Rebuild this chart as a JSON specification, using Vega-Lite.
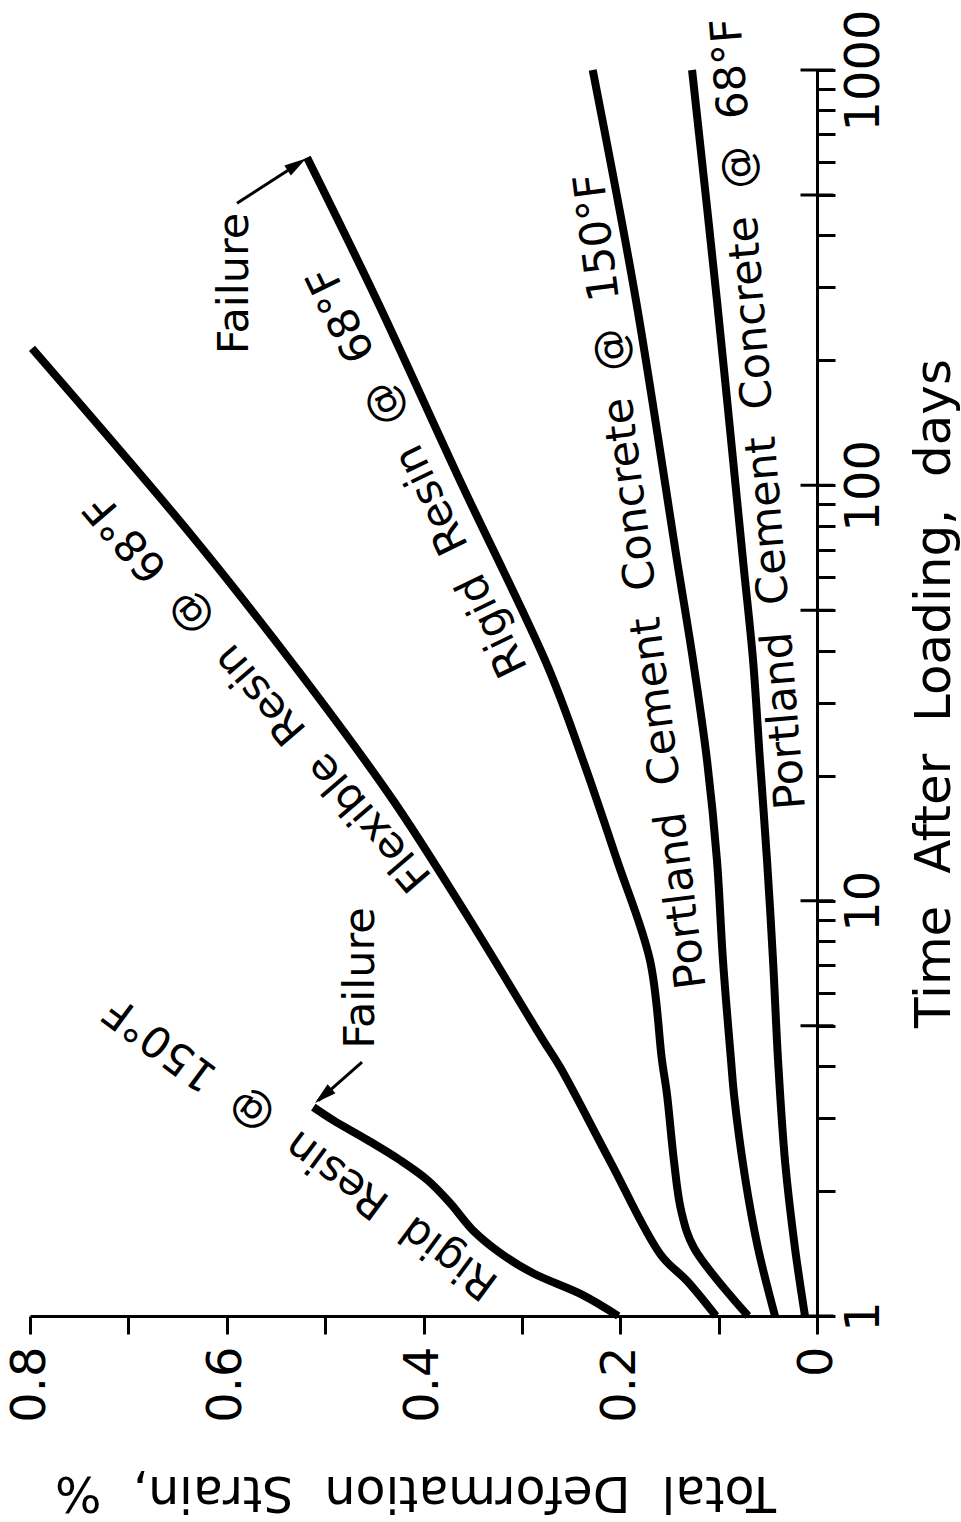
{
  "$schema": "https://vega.github.io/schema/vega-lite/v6.json",
  "width": 787,
  "height": 1246,
  "autosize": "none",
  "padding": {"left": 30, "top": 70, "right": 144, "bottom": 206},
  "background": "white",
  "config": {"view": {"stroke": null}, "font": "DejaVu Sans"},
  "datasets": {
    "curves": [
      {"series": "RR150", "order": 1, "days": 1, "strain": 0.202},
      {"series": "RR150", "order": 2, "days": 1.123, "strain": 0.238},
      {"series": "RR150", "order": 3, "days": 1.269, "strain": 0.289},
      {"series": "RR150", "order": 4, "days": 1.418, "strain": 0.322},
      {"series": "RR150", "order": 5, "days": 1.61, "strain": 0.35},
      {"series": "RR150", "order": 6, "days": 1.871, "strain": 0.373},
      {"series": "RR150", "order": 7, "days": 2.125, "strain": 0.396},
      {"series": "RR150", "order": 8, "days": 2.374, "strain": 0.424},
      {"series": "RR150", "order": 9, "days": 2.653, "strain": 0.457},
      {"series": "RR150", "order": 10, "days": 2.963, "strain": 0.492},
      {"series": "RR150", "order": 11, "days": 3.184, "strain": 0.512},
      {"series": "FR68", "order": 1, "days": 1, "strain": 0.1027},
      {"series": "FR68", "order": 2, "days": 1.214, "strain": 0.132},
      {"series": "FR68", "order": 3, "days": 1.402, "strain": 0.1586},
      {"series": "FR68", "order": 4, "days": 2.361, "strain": 0.2104},
      {"series": "FR68", "order": 5, "days": 3.975, "strain": 0.2612},
      {"series": "FR68", "order": 6, "days": 4.616, "strain": 0.2785},
      {"series": "FR68", "order": 7, "days": 9.38, "strain": 0.3578},
      {"series": "FR68", "order": 8, "days": 17.46, "strain": 0.431},
      {"series": "FR68", "order": 9, "days": 35.3, "strain": 0.5255},
      {"series": "FR68", "order": 10, "days": 74.9, "strain": 0.634},
      {"series": "FR68", "order": 11, "days": 213.7, "strain": 0.798},
      {"series": "RR68", "order": 1, "days": 1, "strain": 0.07},
      {"series": "RR68", "order": 2, "days": 1.458, "strain": 0.125},
      {"series": "RR68", "order": 3, "days": 1.789, "strain": 0.138},
      {"series": "RR68", "order": 4, "days": 2.361, "strain": 0.1454},
      {"series": "RR68", "order": 5, "days": 3.42, "strain": 0.1525},
      {"series": "RR68", "order": 6, "days": 4.13, "strain": 0.1576},
      {"series": "RR68", "order": 7, "days": 7.19, "strain": 0.1698},
      {"series": "RR68", "order": 8, "days": 12.52, "strain": 0.2033},
      {"series": "RR68", "order": 9, "days": 21.78, "strain": 0.2379},
      {"series": "RR68", "order": 10, "days": 36.5, "strain": 0.2734},
      {"series": "RR68", "order": 11, "days": 102.8, "strain": 0.363},
      {"series": "RR68", "order": 12, "days": 278.7, "strain": 0.4473},
      {"series": "RR68", "order": 13, "days": 615.5, "strain": 0.5184},
      {"series": "PCC150", "order": 1, "days": 1, "strain": 0.0427},
      {"series": "PCC150", "order": 2, "days": 1.458, "strain": 0.06},
      {"series": "PCC150", "order": 3, "days": 2.16, "strain": 0.0732},
      {"series": "PCC150", "order": 4, "days": 3.42, "strain": 0.0844},
      {"series": "PCC150", "order": 5, "days": 4.13, "strain": 0.0874},
      {"series": "PCC150", "order": 6, "days": 7.19, "strain": 0.0956},
      {"series": "PCC150", "order": 7, "days": 12.52, "strain": 0.1017},
      {"series": "PCC150", "order": 8, "days": 21.78, "strain": 0.1118},
      {"series": "PCC150", "order": 9, "days": 37.9, "strain": 0.126},
      {"series": "PCC150", "order": 10, "days": 66, "strain": 0.1423},
      {"series": "PCC150", "order": 11, "days": 278.7, "strain": 0.184},
      {"series": "PCC150", "order": 12, "days": 1000, "strain": 0.228},
      {"series": "PCC68", "order": 1, "days": 1, "strain": 0.0122},
      {"series": "PCC68", "order": 2, "days": 1.458, "strain": 0.0224},
      {"series": "PCC68", "order": 3, "days": 2.361, "strain": 0.0325},
      {"series": "PCC68", "order": 4, "days": 4.13, "strain": 0.0396},
      {"series": "PCC68", "order": 5, "days": 7.19, "strain": 0.0447},
      {"series": "PCC68", "order": 6, "days": 12.52, "strain": 0.0508},
      {"series": "PCC68", "order": 7, "days": 21.78, "strain": 0.058},
      {"series": "PCC68", "order": 8, "days": 37.9, "strain": 0.065},
      {"series": "PCC68", "order": 9, "days": 66, "strain": 0.0752},
      {"series": "PCC68", "order": 10, "days": 278.7, "strain": 0.1017},
      {"series": "PCC68", "order": 11, "days": 1000, "strain": 0.127}
    ],
    "labels": [
      {"label": "Rigid \u00a0Resin \u00a0@ \u00a0150°F", "days": 2.551, "strain": 0.5245, "angle": 216.6},
      {"label": "Flexible \u00a0Resin \u00a0@ \u00a068°F", "days": 31.8, "strain": 0.568, "angle": 229.5},
      {"label": "Rigid \u00a0Resin \u00a0@ \u00a068°F", "days": 108.1, "strain": 0.4056, "angle": 244.1},
      {"label": "Portland \u00a0Cement \u00a0Concrete \u00a0@ \u00a0150°F", "days": 58.7, "strain": 0.1784, "angle": 262.8},
      {"label": "Portland \u00a0Cement \u00a0Concrete \u00a0@ \u00a068°F", "days": 148.6, "strain": 0.0584, "angle": 265.3},
      {"label": "Failure", "days": 6.51, "strain": 0.4635, "angle": 270},
      {"label": "Failure", "days": 306, "strain": 0.5916, "angle": 270}
    ],
    "arrows": [
      {"arrow": "a1", "order": 1, "days": 4.087, "strain": 0.4625},
      {"arrow": "a1", "order": 2, "days": 3.3, "strain": 0.507},
      {"arrow": "a2", "order": 1, "days": 477.5, "strain": 0.5896},
      {"arrow": "a2", "order": 2, "days": 600, "strain": 0.525}
    ],
    "heads": [
      {"days": 3.255, "strain": 0.5103, "angle": 138.9},
      {"days": 612, "strain": 0.5194, "angle": 326.9}
    ],
    "majors": [
      {"days": 1, "strain": 0}, {"days": 5, "strain": 0}, {"days": 10, "strain": 0},
      {"days": 50, "strain": 0}, {"days": 100, "strain": 0}, {"days": 500, "strain": 0},
      {"days": 1000, "strain": 0}
    ]
  },
  "encoding": {
    "x": {
      "field": "strain", "type": "quantitative",
      "scale": {"domain": [0, 0.8], "reverse": true, "nice": false, "zero": false},
      "axis": {
        "orient": "bottom",
        "values": [0, 0.1, 0.2, 0.3, 0.4, 0.5, 0.6, 0.7, 0.8],
        "labelExpr": "round(datum.value*10) % 2 == 0 ? format(datum.value, '.1~f') : ''",
        "labelAngle": 270, "labelAlign": "right", "labelBaseline": "middle",
        "labelFontSize": 48, "labelColor": "black", "labelPadding": 12,
        "labelOverlap": false, "labelFlush": false, "labelBound": false,
        "tickSize": 18, "tickWidth": 3, "tickColor": "black",
        "domainWidth": 3, "domainColor": "black", "grid": false,
        "title": "Total \u00a0Deformation \u00a0Strain, \u00a0%",
        "titleAngle": 180, "titleFontSize": 49, "titleFontWeight": "normal",
        "titleColor": "black", "titleBaseline": "middle", "titleAlign": "center", "titleY": 175, "titleX": 385
      }
    },
    "y": {
      "field": "days", "type": "quantitative",
      "scale": {"type": "log", "domain": [1, 1000], "nice": false},
      "axis": {
        "orient": "right",
        "values": [1, 2, 3, 4, 5, 6, 7, 8, 9, 10, 20, 30, 40, 50, 60, 70, 80, 90, 100, 200, 300, 400, 500, 600, 700, 800, 900, 1000],
        "labelExpr": "(datum.value == 1 || datum.value == 10 || datum.value == 100 || datum.value == 1000) ? format(datum.value, 'd') : ''",
        "labelAngle": 270, "labelAlign": "center", "labelBaseline": "top",
        "labelFontSize": 48, "labelColor": "black", "labelPadding": 5,
        "labelOverlap": false, "labelFlush": false, "labelBound": false,
        "tickSize": 18, "tickWidth": 3, "tickColor": "black",
        "domainWidth": 3, "domainColor": "black", "grid": false,
        "title": "Time \u00a0After \u00a0Loading, \u00a0days",
        "titleAngle": 270, "titleFontSize": 50, "titleFontWeight": "normal",
        "titleColor": "black", "titleBaseline": "top", "titleAlign": "center", "titleX": 92
      }
    }
  },
  "layer": [
    {
      "data": {"name": "curves"},
      "mark": {"type": "line", "color": "black", "strokeWidth": 8, "interpolate": "catmull-rom", "strokeCap": "butt"},
      "encoding": {
        "detail": {"field": "series", "type": "nominal"},
        "order": {"field": "order", "type": "quantitative"}
      }
    },
    {
      "data": {"name": "arrows"},
      "mark": {"type": "line", "color": "black", "strokeWidth": 3},
      "encoding": {
        "detail": {"field": "arrow", "type": "nominal"},
        "order": {"field": "order", "type": "quantitative"}
      }
    },
    {
      "data": {"name": "heads"},
      "mark": {"type": "point", "shape": "M0,0L-2.2,-0.6L-2.2,0.6Z", "filled": true, "color": "black", "size": 400, "opacity": 1, "strokeWidth": 0},
      "encoding": {
        "angle": {"field": "angle", "type": "quantitative", "scale": null}
      }
    },
    {
      "data": {"name": "majors"},
      "mark": {"type": "tick", "orient": "horizontal", "size": 33, "thickness": 3, "color": "black", "opacity": 1}
    },
    {
      "data": {"name": "labels"},
      "mark": {"type": "text", "fontSize": 43, "color": "black", "align": "center", "baseline": "middle"},
      "encoding": {
        "text": {"field": "label", "type": "nominal"},
        "angle": {"field": "angle", "type": "quantitative", "scale": null}
      }
    }
  ]
}
